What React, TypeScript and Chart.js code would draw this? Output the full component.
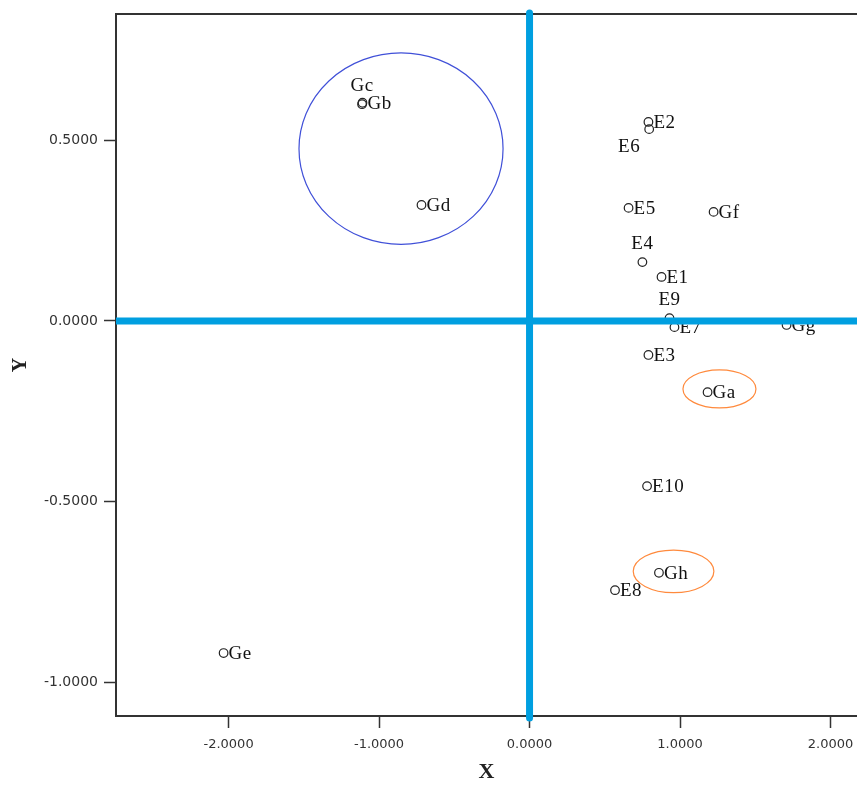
import React, { useEffect, useRef } from "react";
import { Chart, registerables } from "chart.js";

Chart.register(...registerables);

const NAMES = ["Ga", "Gb", "Gc", "Gd", "Ge", "Gf", "Gg", "Gh", "E1", "E2", "E3", "E4", "E5", "E6", "E7", "E8", "E9", "E10"];
const X_VALUES = [1.183, -1.11, -1.113, -0.718, -2.033, 1.223, 1.708, 0.86, 0.877, 0.79, 0.79, 0.75, 0.658, 0.795, 0.963, 0.568, 0.93, 0.781];
const Y_VALUES = [-0.197, 0.604, 0.6, 0.321, -0.919, 0.302, -0.011, -0.697, 0.122, 0.551, -0.094, 0.163, 0.313, 0.531, -0.017, -0.745, 0.008, -0.457];
const LABEL_PLACE: Record<string, string> = { Gc: "above", E4: "above", E9: "above", E6: "belowLeft" };

const X_TICKS = [-2, -1, 0, 1, 2];
const Y_TICKS = [-1, -0.5, 0, 0.5];
const X_MIN = -2.748;
const X_MAX = 2.176;
const Y_MIN = -1.0933;
const Y_MAX = 0.8497;

// ellipse annotations: centre x, centre y, radius x, radius y (data units)
const ELLIPSE_CX = [-0.854, 1.262, 0.957];
const ELLIPSE_CY = [0.477, -0.188, -0.693];
const ELLIPSE_RX = [0.678, 0.2425, 0.268];
const ELLIPSE_RY = [0.265, 0.0526, 0.059];
const ELLIPSE_COLORS = ["#4050d8", "#ff8a3d", "#ff8a3d"];

const AXIS_BLUE = "#009fe0";

const overlayPlugin = {
  id: "overlay",
  afterDatasetsDraw(chart: any) {
    const { ctx, scales } = chart;
    const xs = scales.x;
    const ys = scales.y;
    ctx.save();
    for (let i = 0; i < ELLIPSE_CX.length; i++) {
      const cx = xs.getPixelForValue(ELLIPSE_CX[i]);
      const cy = ys.getPixelForValue(ELLIPSE_CY[i]);
      const rx = Math.abs(xs.getPixelForValue(ELLIPSE_CX[i] + ELLIPSE_RX[i]) - cx);
      const ry = Math.abs(ys.getPixelForValue(ELLIPSE_CY[i] + ELLIPSE_RY[i]) - cy);
      ctx.beginPath();
      ctx.ellipse(cx, cy, rx, ry, 0, 0, Math.PI * 2);
      ctx.strokeStyle = ELLIPSE_COLORS[i];
      ctx.lineWidth = 1.2;
      ctx.stroke();
    }
    ctx.font = "19px 'Liberation Serif', serif";
    try {
      (ctx as any).letterSpacing = "0.5px";
    } catch (e) {}
    ctx.fillStyle = "#111";
    for (let i = 0; i < NAMES.length; i++) {
      const px = xs.getPixelForValue(X_VALUES[i]);
      const py = ys.getPixelForValue(Y_VALUES[i]);
      const place = LABEL_PLACE[NAMES[i]] || "right";
      ctx.textBaseline = "middle";
      if (place === "above") {
        ctx.textAlign = "center";
        ctx.fillText(NAMES[i], px, py - 18);
      } else if (place === "belowLeft") {
        ctx.textAlign = "center";
        ctx.fillText(NAMES[i], px - 20, py + 18);
      } else {
        ctx.textAlign = "left";
        ctx.fillText(NAMES[i], px + 5, py + 1);
      }
    }
    ctx.restore();
  },
  afterDraw(chart: any) {
    const { ctx, chartArea, scales } = chart;
    ctx.save();
    ctx.beginPath();
    ctx.moveTo(chartArea.left - 1, chartArea.top);
    ctx.lineTo(chartArea.right, chartArea.top);
    ctx.strokeStyle = "#333";
    ctx.lineWidth = 2;
    ctx.stroke();
    const x0 = scales.x.getPixelForValue(0);
    const y0 = scales.y.getPixelForValue(0);
    ctx.strokeStyle = AXIS_BLUE;
    ctx.lineWidth = 7;
    ctx.lineCap = "butt";
    ctx.beginPath();
    ctx.moveTo(chartArea.left, y0);
    ctx.lineTo(chartArea.right, y0);
    ctx.stroke();
    ctx.lineCap = "round";
    ctx.beginPath();
    ctx.moveTo(x0, chartArea.top - 1);
    ctx.lineTo(x0, chartArea.bottom + 2);
    ctx.stroke();
    ctx.restore();
  },
};

export default function App() {
  const canvasRef = useRef<HTMLCanvasElement | null>(null);

  useEffect(() => {
    if (!canvasRef.current) return;
    const points = X_VALUES.map((x, i) => ({ x, y: Y_VALUES[i] }));
    const chart = new Chart(canvasRef.current, {
      type: "scatter",
      data: {
        datasets: [
          {
            data: points,
            pointStyle: "circle",
            pointRadius: 4.3,
            pointBorderColor: "#222",
            pointBorderWidth: 1.2,
            pointBackgroundColor: "rgba(255,255,255,0)",
          },
        ],
      },
      plugins: [overlayPlugin],
      options: {
        animation: false,
        responsive: false,
        layout: { autoPadding: false, padding: { top: 14, right: 0, left: 0, bottom: 0 } },
        plugins: { legend: { display: false }, tooltip: { enabled: false } },
        scales: {
          x: {
            type: "linear",
            min: X_MIN,
            max: X_MAX,
            afterBuildTicks: (s: any) => {
              s.ticks = X_TICKS.map((v) => ({ value: v }));
            },
            afterFit: (s: any) => {
              s.height = 70;
              s.paddingRight = 0;
              s.paddingLeft = 0;
            },
            grid: { drawOnChartArea: false, drawTicks: true, tickLength: 12, color: "#333", tickWidth: 1.5 },
            border: { display: true, color: "#333", width: 2 },
            ticks: {
              padding: 9,
              maxRotation: 0,
              color: "#333",
              font: { family: "'DejaVu Sans', sans-serif", size: 13 },
              callback: (v: any) => Number(v).toFixed(4),
            },
            title: {
              display: true,
              text: "X",
              color: "#222",
              padding: { top: 0, bottom: 0 },
              font: { family: "'Liberation Serif', serif", size: 22, weight: "bold" },
            },
          },
          y: {
            type: "linear",
            min: Y_MIN,
            max: Y_MAX,
            afterBuildTicks: (s: any) => {
              s.ticks = Y_TICKS.map((v) => ({ value: v }));
            },
            afterFit: (s: any) => {
              s.width = 116;
              s.paddingTop = 0;
              s.paddingBottom = 0;
            },
            grid: { drawOnChartArea: false, drawTicks: true, tickLength: 12, color: "#333", tickWidth: 1.5 },
            border: { display: true, color: "#333", width: 2 },
            ticks: {
              padding: 6,
              color: "#333",
              font: { family: "'DejaVu Sans', sans-serif", size: 14 },
              callback: (v: any) => Number(v).toFixed(4),
            },
            title: {
              display: true,
              text: "Y",
              color: "#222",
              padding: { top: 9, bottom: 4 },
              font: { family: "'Liberation Serif', serif", size: 20, weight: "bold" },
            },
          },
        },
      },
    } as any);
    return () => chart.destroy();
  }, []);

  return (
    <div style={{ position: "fixed", left: 0, top: 0, width: 857, height: 786, background: "#fff" }}>
      <canvas ref={canvasRef} width={857} height={786} style={{ display: "block" }} />
    </div>
  );
}
